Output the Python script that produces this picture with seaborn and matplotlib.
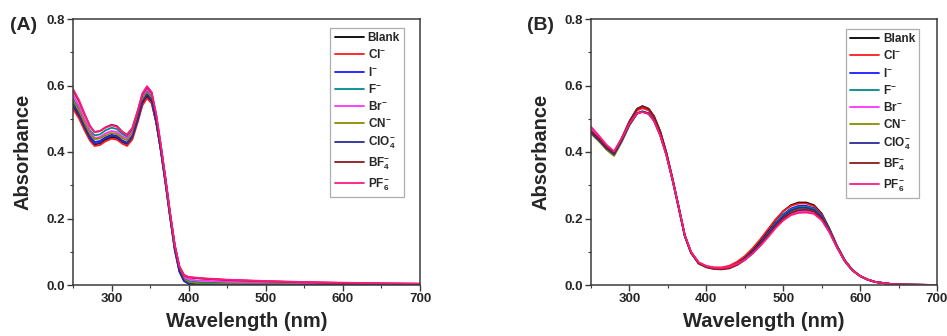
import numpy as np
import pandas as pd
import matplotlib
matplotlib.use("Agg")
import matplotlib.pyplot as plt
from matplotlib.ticker import MultipleLocator
import seaborn as sns

# ---------------- data ----------------
anions = ["Blank", "Cl", "I", "F", "Br", "CN", "ClO4", "BF4", "PF6"]
legend_labels = ["Blank", r"Cl$^{-}$", r"I$^{-}$", r"F$^{-}$", r"Br$^{-}$", r"CN$^{-}$",
                 r"ClO$_{4}^{-}$", r"BF$_{4}^{-}$", r"PF$_{6}^{-}$"]
colors = ["#000000", "#ff1a1a", "#1a1aff", "#008b8b", "#ff33ff", "#8b8b00",
          "#2b2b99", "#8b1a1a", "#ff1a80"]

wl_a = [250, 258, 265, 272, 278, 285, 292, 300, 307, 314, 320, 327, 334, 340, 346, 352, 358, 364,
        370, 376, 382, 388, 394, 400, 410, 420, 450, 500, 550, 600, 650, 700]
a_blank = [0.535, 0.505, 0.470, 0.439, 0.423, 0.426, 0.437, 0.445, 0.442, 0.430, 0.424, 0.444, 0.496, 0.546,
           0.568, 0.550, 0.488, 0.405, 0.310, 0.208, 0.112, 0.045, 0.014, 0.005, 0.002, 0.001, 0.001,
           0.0, 0.0, 0.0, 0.0, 0.0]
a_cl = [0.530, 0.500, 0.465, 0.434, 0.418, 0.421, 0.432, 0.440, 0.437, 0.425, 0.418, 0.438, 0.490, 0.540,
        0.562, 0.546, 0.488, 0.410, 0.315, 0.212, 0.118, 0.055, 0.030, 0.023, 0.021, 0.019, 0.015,
        0.011, 0.008, 0.006, 0.004, 0.003]
a_i = [0.550, 0.518, 0.480, 0.447, 0.430, 0.433, 0.444, 0.452, 0.448, 0.435, 0.428, 0.449, 0.502, 0.553,
       0.575, 0.557, 0.492, 0.402, 0.305, 0.202, 0.105, 0.040, 0.012, 0.004, 0.001, 0.001, 0.0,
       0.0, 0.0, 0.0, 0.0, 0.0]
a_f = [0.560, 0.530, 0.496, 0.465, 0.450, 0.453, 0.465, 0.473, 0.469, 0.454, 0.446, 0.465, 0.515, 0.562,
       0.583, 0.565, 0.499, 0.410, 0.312, 0.208, 0.112, 0.048, 0.020, 0.012, 0.009, 0.008, 0.006,
       0.004, 0.003, 0.002, 0.001, 0.001]
a_br = [0.572, 0.537, 0.497, 0.460, 0.442, 0.445, 0.456, 0.463, 0.460, 0.447, 0.440, 0.461, 0.515, 0.568,
        0.590, 0.572, 0.506, 0.416, 0.318, 0.213, 0.118, 0.052, 0.024, 0.017, 0.014, 0.013, 0.010,
        0.008, 0.006, 0.004, 0.003, 0.002]
a_cn = [0.555, 0.523, 0.487, 0.454, 0.438, 0.441, 0.450, 0.457, 0.454, 0.442, 0.435, 0.455, 0.507, 0.557,
        0.578, 0.560, 0.494, 0.407, 0.310, 0.206, 0.110, 0.045, 0.016, 0.008, 0.005, 0.004, 0.003,
        0.002, 0.001, 0.001, 0.0, 0.0]
a_clo4 = [0.542, 0.510, 0.474, 0.441, 0.425, 0.428, 0.440, 0.448, 0.445, 0.432, 0.425, 0.446, 0.499, 0.551,
          0.573, 0.556, 0.490, 0.403, 0.306, 0.203, 0.106, 0.041, 0.012, 0.004, 0.001, 0.001, 0.0,
          0.0, 0.0, 0.0, 0.0, 0.0]
a_bf4 = [0.585, 0.551, 0.513, 0.478, 0.460, 0.463, 0.474, 0.482, 0.478, 0.461, 0.452, 0.472, 0.524, 0.574,
         0.596, 0.578, 0.510, 0.418, 0.320, 0.215, 0.120, 0.055, 0.029, 0.023, 0.021, 0.019, 0.015,
         0.011, 0.008, 0.006, 0.005, 0.004]
a_pf6 = [0.590, 0.555, 0.515, 0.478, 0.460, 0.463, 0.473, 0.480, 0.476, 0.460, 0.451, 0.472, 0.525, 0.576,
         0.598, 0.580, 0.512, 0.420, 0.320, 0.215, 0.120, 0.055, 0.030, 0.024, 0.022, 0.020, 0.016,
         0.012, 0.009, 0.007, 0.005, 0.004]

wl_b = [250, 260, 270, 280, 290, 300, 310, 317, 325, 332, 340, 348, 356, 364, 372, 380, 390, 400, 410, 420,
        430, 440, 450, 460, 470, 480, 490, 500, 510, 520, 530, 540, 550, 560, 570, 580, 590, 600, 610, 620,
        640, 660, 700]
b_blank = [0.462, 0.440, 0.415, 0.397, 0.440, 0.492, 0.530, 0.538, 0.530, 0.507, 0.462, 0.398, 0.320, 0.235, 0.148,
           0.098, 0.066, 0.055, 0.050, 0.049, 0.053, 0.065, 0.082, 0.105, 0.132, 0.163, 0.195, 0.222, 0.240, 0.248,
           0.248, 0.240, 0.215, 0.170, 0.118, 0.075, 0.045, 0.027, 0.016, 0.009, 0.003, 0.001, 0.0]
b_cl = [0.465, 0.442, 0.417, 0.400, 0.442, 0.490, 0.525, 0.532, 0.525, 0.503, 0.460, 0.397, 0.320, 0.236, 0.150,
        0.100, 0.068, 0.057, 0.053, 0.053, 0.058, 0.070, 0.087, 0.110, 0.137, 0.167, 0.197, 0.222, 0.238, 0.245,
        0.245, 0.237, 0.212, 0.168, 0.117, 0.074, 0.045, 0.027, 0.016, 0.009, 0.003, 0.001, 0.0]
b_i = [0.460, 0.438, 0.413, 0.395, 0.436, 0.484, 0.517, 0.522, 0.516, 0.495, 0.452, 0.392, 0.316, 0.233, 0.148,
       0.098, 0.066, 0.055, 0.050, 0.049, 0.052, 0.063, 0.079, 0.100, 0.126, 0.156, 0.186, 0.212, 0.230, 0.238,
       0.238, 0.231, 0.208, 0.166, 0.116, 0.074, 0.045, 0.027, 0.016, 0.009, 0.003, 0.001, 0.0]
b_f = [0.458, 0.437, 0.412, 0.394, 0.435, 0.483, 0.516, 0.521, 0.515, 0.494, 0.451, 0.392, 0.316, 0.233, 0.148,
       0.098, 0.066, 0.055, 0.050, 0.049, 0.052, 0.063, 0.078, 0.099, 0.125, 0.154, 0.184, 0.209, 0.227, 0.235,
       0.235, 0.229, 0.206, 0.165, 0.115, 0.073, 0.044, 0.027, 0.016, 0.009, 0.003, 0.001, 0.0]
b_br = [0.472, 0.447, 0.420, 0.400, 0.440, 0.486, 0.517, 0.521, 0.515, 0.494, 0.451, 0.392, 0.317, 0.234, 0.149,
        0.099, 0.067, 0.056, 0.051, 0.050, 0.053, 0.062, 0.076, 0.095, 0.119, 0.146, 0.174, 0.197, 0.213, 0.220,
        0.221, 0.216, 0.197, 0.160, 0.113, 0.072, 0.044, 0.027, 0.016, 0.009, 0.003, 0.001, 0.0]
b_cn = [0.455, 0.433, 0.407, 0.388, 0.430, 0.480, 0.515, 0.521, 0.515, 0.494, 0.451, 0.392, 0.316, 0.233, 0.148,
        0.098, 0.066, 0.055, 0.050, 0.049, 0.052, 0.062, 0.077, 0.097, 0.122, 0.150, 0.179, 0.203, 0.220, 0.228,
        0.228, 0.223, 0.201, 0.162, 0.114, 0.072, 0.044, 0.027, 0.016, 0.009, 0.003, 0.001, 0.0]
b_clo4 = [0.458, 0.436, 0.411, 0.393, 0.434, 0.482, 0.516, 0.522, 0.516, 0.495, 0.452, 0.392, 0.316, 0.233, 0.148,
          0.098, 0.066, 0.055, 0.050, 0.049, 0.052, 0.062, 0.078, 0.098, 0.124, 0.152, 0.182, 0.206, 0.224, 0.232,
          0.232, 0.226, 0.204, 0.163, 0.115, 0.073, 0.044, 0.027, 0.016, 0.009, 0.003, 0.001, 0.0]
b_bf4 = [0.463, 0.441, 0.416, 0.398, 0.441, 0.492, 0.530, 0.537, 0.530, 0.507, 0.462, 0.398, 0.320, 0.235, 0.148,
         0.097, 0.064, 0.053, 0.048, 0.047, 0.050, 0.060, 0.075, 0.095, 0.120, 0.148, 0.176, 0.200, 0.217, 0.225,
         0.226, 0.221, 0.200, 0.161, 0.113, 0.072, 0.044, 0.027, 0.016, 0.009, 0.003, 0.001, 0.0]
b_pf6 = [0.476, 0.450, 0.422, 0.402, 0.441, 0.486, 0.516, 0.520, 0.514, 0.493, 0.450, 0.391, 0.317, 0.234, 0.150,
         0.100, 0.068, 0.057, 0.052, 0.051, 0.054, 0.063, 0.076, 0.094, 0.117, 0.143, 0.171, 0.194, 0.210, 0.217,
         0.218, 0.214, 0.195, 0.159, 0.113, 0.072, 0.044, 0.027, 0.016, 0.009, 0.003, 0.001, 0.0]

x_ticks = [300, 400, 500, 600, 700]
y_ticks = [0.0, 0.2, 0.4, 0.6, 0.8]

# ---------------- style ----------------
sns.set_theme(style="ticks")
plt.rcParams["font.family"] = ["Liberation Sans", "DejaVu Sans"]
plt.rcParams["font.weight"] = "bold"
plt.rcParams["mathtext.fontset"] = "custom"
plt.rcParams["mathtext.rm"] = "Liberation Sans:bold"
plt.rcParams["mathtext.bf"] = "Liberation Sans:bold"
plt.rcParams["mathtext.it"] = "Liberation Sans:bold"
plt.rcParams["mathtext.default"] = "bf"


def long_df(wl, series):
    frames = []
    for name, vals in zip(anions, series):
        frames.append(pd.DataFrame({"Wavelength": wl, "Absorbance": vals, "Anion": name}))
    return pd.concat(frames, ignore_index=True)


df_a = long_df(wl_a, [a_blank, a_cl, a_i, a_f, a_br, a_cn, a_clo4, a_bf4, a_pf6])
df_b = long_df(wl_b, [b_blank, b_cl, b_i, b_f, b_br, b_cn, b_clo4, b_bf4, b_pf6])

W, H = 947, 336
fig = plt.figure(figsize=(W / 100, H / 100), dpi=100)
ax_a = fig.add_axes([73 / W, 1 - 285 / H, 347 / W, 266 / H])
ax_b = fig.add_axes([591 / W, 1 - 285 / H, 346 / W, 266 / H])

palette = dict(zip(anions, colors))
spine_col = "#3a3a3a"

for ax, df, leg_anchor in [(ax_a, df_a, (0.954, 0.966)),
                           (ax_b, df_b, (0.949, 0.962))]:
    sns.lineplot(data=df, x="Wavelength", y="Absorbance", hue="Anion", hue_order=anions,
                 palette=palette, estimator=None, linewidth=1.3, ax=ax, legend=True)
    ax.set_xlim(250, 700)
    ax.set_ylim(0, 0.8)
    ax.set_xticks(x_ticks)
    ax.set_yticks(y_ticks)
    ax.set_xticklabels([str(v) for v in x_ticks])
    ax.set_yticklabels([f"{v:.1f}" for v in y_ticks])
    ax.xaxis.set_minor_locator(MultipleLocator(50))
    ax.yaxis.set_minor_locator(MultipleLocator(0.1))
    ax.tick_params(which="major", direction="out", length=4, width=1.0, color=spine_col,
                   labelsize=9.5, pad=2, top=False, right=False)
    ax.tick_params(which="minor", direction="out", length=2.5, width=0.8, color=spine_col,
                   top=False, right=False)
    for lab in ax.get_xticklabels() + ax.get_yticklabels():
        lab.set_fontweight("bold")
    for sp in ax.spines.values():
        sp.set_visible(True)
        sp.set_color(spine_col)
        sp.set_linewidth(1.1)
    ax.set_xlabel("Wavelength (nm)", fontsize=14.5, fontweight="bold", labelpad=5)
    ax.set_ylabel("Absorbance", fontsize=14.5, fontweight="bold", labelpad=10)
    ax.grid(False)
    handles, _ = ax.get_legend_handles_labels()
    leg = ax.legend(handles[:len(anions)], legend_labels, loc="upper right",
                    bbox_to_anchor=leg_anchor, borderaxespad=0,
                    frameon=True, fancybox=False, edgecolor="#9a9a9a",
                    handlelength=2.5, handletextpad=0.3, labelspacing=0.36,
                    borderpad=0.35, prop={"weight": "bold", "size": 8.5})
    leg.get_frame().set_linewidth(0.9)
    for line in leg.get_lines():
        line.set_linewidth(1.3)

fig.text(10 / W, 1 - 25 / H, "(A)", fontsize=14, fontweight="bold", va="center", ha="left")
fig.text(527 / W, 1 - 25 / H, "(B)", fontsize=14, fontweight="bold", va="center", ha="left")

fig.savefig("out.png", dpi=100)
